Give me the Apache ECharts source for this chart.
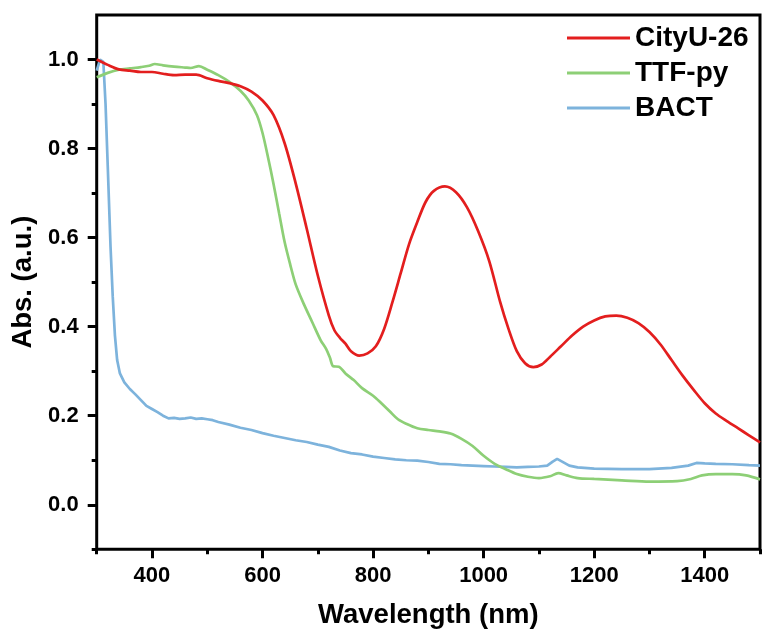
<!DOCTYPE html>
<html>
<head>
<meta charset="utf-8">
<script src="https://cdn.jsdelivr.net/npm/echarts@6/dist/echarts.min.js"></script>
<style>
  html, body { margin: 0; padding: 0; background: #fff; }
  #chart { width: 764px; height: 636px; }
</style>
</head>
<body>
<div id="chart"></div>
<script>
// CityU-26
var cityWl = [300, 320, 340, 360, 380, 400, 420, 440, 460, 480, 500, 520, 540, 560, 580, 600, 620, 640, 660, 680,
    700, 720, 730, 740, 750, 760, 775, 790, 805, 820, 835, 850, 865, 880, 895, 910, 930, 950, 970, 990,
    1010, 1030, 1045, 1060, 1075, 1090, 1105, 1120, 1140, 1160, 1180, 1200, 1220, 1240, 1260, 1280, 1300, 1320, 1340, 1360,
    1380, 1400, 1420, 1440, 1460, 1480, 1500];
var cityAbs = [1.000, 0.988, 0.978, 0.975, 0.972, 0.972, 0.968, 0.965, 0.966, 0.966, 0.958, 0.952, 0.947, 0.940, 0.928, 0.908, 0.875, 0.812, 0.722, 0.620,
    0.515, 0.425, 0.392, 0.375, 0.362, 0.345, 0.335, 0.340, 0.356, 0.395, 0.455, 0.520, 0.585, 0.635, 0.680, 0.705, 0.715, 0.702, 0.668, 0.615,
    0.548, 0.455, 0.395, 0.345, 0.318, 0.309, 0.315, 0.332, 0.356, 0.380, 0.400, 0.414, 0.423, 0.425, 0.420, 0.408, 0.388, 0.360, 0.325, 0.290,
    0.258, 0.228, 0.205, 0.188, 0.172, 0.156, 0.140];

// TTF-py
var ttfWl = [300, 320, 340, 360, 380, 395, 405, 420, 440, 460, 470, 485, 500, 520, 540, 560, 575, 590, 600, 610,
    620, 630, 640, 650, 660, 675, 690, 705, 715, 722, 728, 738, 750, 765, 780, 800, 815, 830, 845, 860,
    880, 900, 920, 940, 960, 980, 1000, 1020, 1040, 1060, 1080, 1100, 1120, 1135, 1150, 1170, 1200, 1250, 1300, 1350,
    1375, 1395, 1420, 1450, 1475, 1500];
var ttfAbs = [0.960, 0.970, 0.977, 0.980, 0.983, 0.986, 0.990, 0.987, 0.984, 0.982, 0.981, 0.985, 0.977, 0.965, 0.950, 0.930, 0.908, 0.875, 0.835, 0.780,
    0.720, 0.655, 0.590, 0.540, 0.495, 0.450, 0.410, 0.370, 0.350, 0.330, 0.311, 0.310, 0.295, 0.280, 0.262, 0.245, 0.228, 0.210, 0.192, 0.182,
    0.172, 0.168, 0.165, 0.160, 0.148, 0.132, 0.110, 0.092, 0.080, 0.069, 0.063, 0.060, 0.064, 0.071, 0.066, 0.060, 0.058, 0.055, 0.052, 0.053,
    0.058, 0.066, 0.069, 0.069, 0.066, 0.057];

// BACT
var bactWl = [300, 306, 312, 316, 320, 325, 329, 333, 337, 342, 350, 360, 370, 380, 390, 400, 410, 420, 430, 440,
    450, 460, 470, 480, 490, 500, 510, 520, 540, 560, 580, 600, 620, 640, 660, 680, 700, 720, 740, 760,
    780, 800, 820, 840, 860, 880, 900, 920, 940, 960, 980, 1000, 1020, 1040, 1060, 1080, 1100, 1115, 1125, 1133,
    1142, 1155, 1170, 1200, 1250, 1300, 1340, 1370, 1385, 1400, 1420, 1450, 1480, 1500];
var bactAbs = [0.975, 1.000, 0.995, 0.900, 0.760, 0.580, 0.468, 0.380, 0.325, 0.295, 0.275, 0.260, 0.248, 0.235, 0.222, 0.215, 0.208, 0.200, 0.194, 0.195,
    0.193, 0.194, 0.196, 0.193, 0.194, 0.192, 0.190, 0.186, 0.180, 0.173, 0.168, 0.161, 0.155, 0.150, 0.145, 0.141, 0.135, 0.130, 0.122, 0.116,
    0.113, 0.108, 0.105, 0.102, 0.100, 0.099, 0.096, 0.092, 0.091, 0.089, 0.088, 0.087, 0.086, 0.085, 0.084, 0.085, 0.086, 0.088, 0.097, 0.103,
    0.097, 0.088, 0.084, 0.081, 0.080, 0.080, 0.083, 0.088, 0.094, 0.093, 0.092, 0.091, 0.089, 0.088];

var xMajor = [400, 600, 800, 1000, 1200, 1400];
var xMinor = [300, 500, 700, 900, 1100, 1300, 1500];
var yMajor = [0, 0.2, 0.4, 0.6, 0.8, 1.0];
var yMinor = [-0.1, 0.1, 0.3, 0.5, 0.7, 0.9];

function pairs(xs, ys) {
    var out = [];
    for (var i = 0; i < xs.length; i++) {
        out.push([xs[i], ys[i]]);
    }
    return out;
}

var font = "'Liberation Sans', Arial, sans-serif";

var myChart = echarts.init(document.getElementById("chart"));
myChart.setOption({
    animation: false,
    grid: {
        left: 96.7,
        right: 4,
        top: 15,
        bottom: 86.7,
        show: true,
        borderColor: '#000',
        borderWidth: 3,
        containLabel: false
    },
    legend: {
        orient: 'vertical',
        left: 567,
        top: 24,
        padding: 0,
        itemGap: 7,
        itemWidth: 63,
        itemHeight: 3,
        icon: 'rect',
        textStyle: {
            fontFamily: font,
            fontWeight: 'bold',
            fontSize: 28,
            lineHeight: 28,
            color: '#000'
        },
        data: ['CityU-26', 'TTF-py', 'BACT']
    },
    xAxis: [
        {
            type: 'value',
            min: 300,
            max: 1500,
            name: 'Wavelength (nm)',
            nameLocation: 'middle',
            nameGap: 52,
            nameTextStyle: { fontFamily: font, fontWeight: 'bold', fontSize: 27.5, color: '#000' },
            axisLine: { show: false, onZero: false },
            splitLine: { show: false },
            axisTick: { show: true, inside: false, length: 9, customValues: xMajor, lineStyle: { color: '#000', width: 3 } },
            axisLabel: {
                customValues: xMajor,
                margin: 16,
                fontFamily: font,
                fontWeight: 'bold',
                fontSize: 22,
                color: '#000',
                formatter: function (v) { return String(v); }
            }
        },
        {
            type: 'value',
            min: 300,
            max: 1500,
            position: 'bottom',
            axisLine: { show: false, onZero: false },
            splitLine: { show: false },
            axisLabel: { show: false },
            axisTick: { show: true, inside: false, length: 5, customValues: xMinor, lineStyle: { color: '#000', width: 3 } }
        }
    ],
    yAxis: [
        {
            type: 'value',
            min: -0.1,
            max: 1.1,
            name: 'Abs. (a.u.)',
            nameLocation: 'middle',
            nameGap: 50,
            nameTextStyle: { fontFamily: font, fontWeight: 'bold', fontSize: 27.5, color: '#000' },
            axisLine: { show: false, onZero: false },
            splitLine: { show: false },
            axisTick: { show: true, inside: false, length: 9, customValues: yMajor, lineStyle: { color: '#000', width: 3 } },
            axisLabel: {
                customValues: yMajor,
                margin: 18,
                fontFamily: font,
                fontWeight: 'bold',
                fontSize: 22,
                color: '#000',
                formatter: function (v) { return v.toFixed(1); }
            }
        },
        {
            type: 'value',
            min: -0.1,
            max: 1.1,
            position: 'left',
            axisLine: { show: false, onZero: false },
            splitLine: { show: false },
            axisLabel: { show: false },
            axisTick: { show: true, inside: false, length: 5, customValues: yMinor, lineStyle: { color: '#000', width: 3 } }
        }
    ],
    series: [
        {
            name: 'CityU-26',
            type: 'line',
            data: pairs(cityWl, cityAbs),
            showSymbol: false,
            symbol: 'none',
            smooth: 0.3,
            z: 4,
            itemStyle: { color: '#e31e1e' },
            lineStyle: { color: '#e31e1e', width: 2.7 }
        },
        {
            name: 'TTF-py',
            type: 'line',
            data: pairs(ttfWl, ttfAbs),
            showSymbol: false,
            symbol: 'none',
            smooth: 0.3,
            z: 3,
            itemStyle: { color: '#8dcf76' },
            lineStyle: { color: '#8dcf76', width: 2.7 }
        },
        {
            name: 'BACT',
            type: 'line',
            data: pairs(bactWl, bactAbs),
            showSymbol: false,
            symbol: 'none',
            z: 2,
            itemStyle: { color: '#7db3dc' },
            lineStyle: { color: '#7db3dc', width: 2.7 }
        }
    ]
});
</script>
</body>
</html>
